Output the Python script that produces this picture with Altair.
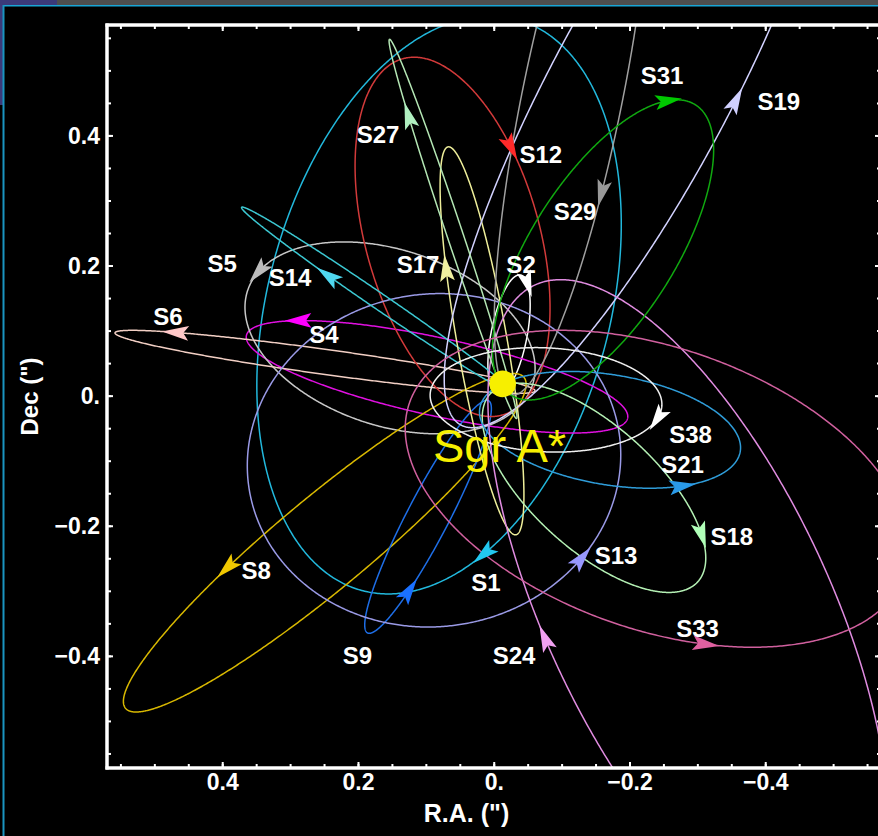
import math
import altair as alt
import pandas as pd

# ---- orbit data: projected ellipses of the S-stars (arcsec on the sky) ----
stars = ["S1", "S2", "S4", "S5", "S6", "S8", "S9", "S12", "S13", "S14",
         "S17", "S18", "S19", "S21", "S24", "S27", "S29", "S31", "S33", "S38"]

line_colors = ["#22b8dc", "#ffffff", "#e010e0", "#c8c8c8", "#f2cfc4", "#d8b800",
               "#1e6ee6", "#d23a3a", "#9a9ae6", "#3cc8d2", "#eeee9a", "#b4f0b4",
               "#d2d2ff", "#2f9cd8", "#e08ce0", "#b4e6b4", "#a0a0a0", "#10a810",
               "#d0609e", "#f0f0f0"]
arrow_colors = ["#22c8f0", "#ffffff", "#ff00ff", "#bbbbbb", "#ffc8c8", "#f0c800",
                "#1a70ff", "#ff2a2a", "#9898ff", "#50d8f0", "#f0f0a0", "#b0ffb8",
                "#d0d0ff", "#2a9ae8", "#f0a0f0", "#b0f0c0", "#999999", "#00c800",
                "#e060a0", "#ffffff"]

# ellipse centre (R.A., Dec), semi-axes and tilt (deg, counter-clockwise from west)
center_ra = [0.0813, -0.0218, 0.0843, 0.1535, 0.2493, 0.2497, 0.0975, 0.0614, 0.0887, 0.1727,
             0.0180, -0.1470, -0.2148, -0.1706, -0.2855, 0.0607, -0.1146, -0.1603, -0.2399, -0.0763]
center_dec = [0.1403, 0.0942, 0.0297, 0.0896, 0.0527, -0.2254, -0.1855, 0.2448, -0.0986, 0.1480,
              0.0850, -0.1409, 0.4707, -0.0518, -0.3299, 0.2571, 0.4584, 0.2248, -0.1424, -0.0057]
semi_major = [0.4536, 0.0936, 0.2879, 0.2221, 0.3126, 0.3884, 0.1995, 0.2835, 0.2760, 0.2450,
              0.3023, 0.2104, 0.5787, 0.1947, 0.5492, 0.3060, 0.4649, 0.2613, 0.3880, 0.1709]
semi_minor = [0.2525, 0.0266, 0.0598, 0.1345, 0.0192, 0.0694, 0.0312, 0.1285, 0.2553, 0.0121,
              0.0369, 0.0933, 0.1337, 0.0844, 0.2106, 0.0118, 0.0738, 0.1072, 0.2155, 0.0799]
tilt_deg = [76.0, 79.6, -12.8, -20.0, -8.2, 41.0, 63.5, 104.7, 12.3, -35.5,
            99.5, -44.0, 63.0, -10.0, -66.0, 107.8, 79.0, 59.0, -20.6, -3.0]
# +1: counter-clockwise on the page, -1: clockwise
sense = [-1, -1, 1, 1, 1, 1, 1, -1, 1, -1,
         -1, -1, 1, 1, -1, -1, -1, -1, 1, -1]

# where each direction arrow sits along its orbit
arrow_ra = [0.0136, -0.0454, 0.2890, 0.3598, 0.4703, 0.3922, 0.1211, -0.0233, -0.1235, 0.2463,
            0.0695, -0.2988, -0.3577, -0.2782, -0.0793, 0.1241, -0.1632, -0.2561, -0.3106, -0.2487]
arrow_dec = [-0.2469, 0.1710, 0.1265, 0.2018, 0.0973, -0.2669, -0.3007, 0.3815, -0.2439, 0.1833,
             0.1971, -0.2162, 0.4553, -0.1409, -0.3699, 0.4322, 0.3093, 0.4599, -0.3868, -0.0410]

# star name labels
label_ra = [0.0121, -0.0395, 0.2508, 0.4010, 0.4806, 0.3509, 0.2014, -0.0685, -0.1794, 0.3008,
            0.1123, -0.3499, -0.4193, -0.2774, -0.0292, 0.1712, -0.1190, -0.2472, -0.2995, -0.2892]
label_dec = [-0.2869, 0.2018, 0.0942, 0.2033, 0.1211, -0.2684, -0.3987, 0.3708, -0.2454, 0.1818,
             0.2018, -0.2170, 0.4527, -0.1056, -0.3990, 0.4015, 0.2837, 0.4914, -0.3576, -0.0595]

# Sgr A*
sgr_ra, sgr_dec = [-0.0125], [0.0189]
sgr_label_ra, sgr_label_dec = [-0.0078], [-0.1010]

# axis ticks and their labels
major_ticks = [0.4, 0.2, 0.0, -0.2, -0.4]
tick_labels = ["0.4", "0.2", "0.", "\u22120.2", "\u22120.4"]
minor_ticks = [round(-0.55 + 0.05 * k, 2) for k in range(23)]

# ---- geometry ----
W, H = 771, 743
RA_DOMAIN = [-0.5654, 0.5705]
DEC_DOMAIN = [-0.5716, 0.5705]
px_ra = W / (RA_DOMAIN[1] - RA_DOMAIN[0])
px_dec = H / (DEC_DOMAIN[1] - DEC_DOMAIN[0])


def ellipse_point(i, t):
    phi = math.radians(tilt_deg[i])
    a, b = semi_major[i], semi_minor[i]
    u = a * math.cos(t) * math.cos(phi) - b * math.sin(t) * math.sin(phi)
    v = a * math.cos(t) * math.sin(phi) + b * math.sin(t) * math.cos(phi)
    du = -a * math.sin(t) * math.cos(phi) - b * math.cos(t) * math.sin(phi)
    dv = -a * math.sin(t) * math.sin(phi) + b * math.cos(t) * math.cos(phi)
    return center_ra[i] - u, center_dec[i] + v, du, dv


orbit_rows = []
for i, name in enumerate(stars):
    for k in range(0, 721):
        ra, dec, _, _ = ellipse_point(i, math.radians(k * 0.5))
        orbit_rows.append({"star": name, "step": k, "ra": ra, "dec": dec, "hex": line_colors[i]})
orbit_df = pd.DataFrame(orbit_rows)

arrow_rows = []
for i, name in enumerate(stars):
    best = None
    for k in range(0, 1440):
        t = math.radians(k * 0.25)
        ra, dec, du, dv = ellipse_point(i, t)
        d = ((ra - arrow_ra[i]) * px_ra) ** 2 + ((dec - arrow_dec[i]) * px_dec) ** 2
        if best is None or d < best[0]:
            best = (d, ra, dec, du, dv)
    _, ra, dec, du, dv = best
    dx = du * px_ra * sense[i]
    dy_up = dv * px_dec * sense[i]
    ang = math.degrees(math.atan2(dx, dy_up)) % 360.0
    arrow_rows.append({"star": name, "ra": ra, "dec": dec, "angle": ang, "hex": arrow_colors[i]})
arrow_df = pd.DataFrame(arrow_rows)

label_df = pd.DataFrame({"label": stars, "ra": label_ra, "dec": label_dec})
sgr_df = pd.DataFrame({"ra": sgr_ra, "dec": sgr_dec})
sgr_label_df = pd.DataFrame({"ra": sgr_label_ra, "dec": sgr_label_dec, "text": ["Sgr A*"]})
tick_label_df = pd.DataFrame({"v": major_ticks, "text": tick_labels})

xs = alt.Scale(domain=RA_DOMAIN, reverse=True, nice=False, zero=False)
ys = alt.Scale(domain=DEC_DOMAIN, nice=False, zero=False)


def X(field):
    return alt.X(field, scale=xs, axis=None)


def Y(field):
    return alt.Y(field, scale=ys, axis=None)


FONT = "Liberation Sans"

orbits = alt.Chart(orbit_df).mark_line(clip=True, strokeWidth=1.5).encode(
    x=X("ra:Q"), y=Y("dec:Q"),
    detail="star:N",
    color=alt.Color("hex:N", scale=None),
    order="step:Q",
)

ARROW = "M0,-1L0.55,1L0,0.6L-0.55,1Z"
arrows = alt.Chart(arrow_df).mark_point(shape=ARROW, filled=True, size=720, opacity=1,
                                        strokeWidth=0).encode(
    x=X("ra:Q"), y=Y("dec:Q"),
    angle=alt.Angle("angle:Q", scale=None),
    color=alt.Color("hex:N", scale=None),
)

labels = alt.Chart(label_df).mark_text(font=FONT, fontSize=24, fontWeight="bold", color="white",
                                       align="center", baseline="middle", dy=1).encode(
    x=X("ra:Q"), y=Y("dec:Q"), text="label:N",
)

sgr_dot = alt.Chart(sgr_df).mark_point(shape="circle", filled=True, size=710, opacity=1,
                                       color="#f7ef00", strokeWidth=0).encode(
    x=X("ra:Q"), y=Y("dec:Q"),
)
sgr_text = alt.Chart(sgr_label_df).mark_text(font=FONT, fontSize=47, color="#f7ef00",
                                             align="center", baseline="alphabetic").encode(
    x=X("ra:Q"), y=Y("dec:Q"), text="text:N",
)

# tick labels and axis titles
x_tick_text = alt.Chart(tick_label_df).mark_text(
    font=FONT, fontSize=23, fontWeight="bold", color="white", align="center",
    baseline="alphabetic").encode(x=X("v:Q"), y=alt.value(H + 22), text="text:N")
y_tick_text = alt.Chart(tick_label_df).mark_text(
    font=FONT, fontSize=23, fontWeight="bold", color="white", align="right",
    baseline="middle", dy=1).encode(y=Y("v:Q"), x=alt.value(-7), text="text:N")

one = pd.DataFrame({"k": [0]})
x_title = alt.Chart(pd.DataFrame({"t": ['R.A. (")']})).mark_text(
    font=FONT, fontSize=25, fontWeight="bold", color="white", align="center",
    baseline="alphabetic").encode(x=alt.value(W / 2 - 26), y=alt.value(H + 54), text="t:N")
y_title = alt.Chart(pd.DataFrame({"t": ['Dec (")']})).mark_text(
    font=FONT, fontSize=24, fontWeight="bold", color="white", align="center",
    baseline="alphabetic", angle=270).encode(x=alt.value(-69), y=alt.value(H / 2), text="t:N")

FRAME = 3.5
frame = [
    alt.Chart(one).mark_rule(color="white", strokeWidth=FRAME).encode(
        x=alt.value(0), y=alt.value(-1.5), y2=alt.value(H + 1.5)),
    alt.Chart(one).mark_rule(color="white", strokeWidth=FRAME).encode(
        x=alt.value(-1.5), x2=alt.value(W + 5), y=alt.value(0)),
    alt.Chart(one).mark_rule(color="white", strokeWidth=FRAME).encode(
        x=alt.value(-1.5), x2=alt.value(W + 5), y=alt.value(H)),
]

minor_df = pd.DataFrame({"v": minor_ticks})
major_df = pd.DataFrame({"v": major_ticks})
ticks = []
for df, ln in ((minor_df, 4), (major_df, 6)):
    ticks += [
        alt.Chart(df).mark_rule(color="white", strokeWidth=2).encode(
            x=X("v:Q"), y=alt.value(H), y2=alt.value(H - ln)),
        alt.Chart(df).mark_rule(color="white", strokeWidth=2).encode(
            x=X("v:Q"), y=alt.value(0), y2=alt.value(ln)),
        alt.Chart(df).mark_rule(color="white", strokeWidth=2).encode(
            y=Y("v:Q"), x=alt.value(0), x2=alt.value(ln)),
        alt.Chart(df).mark_rule(color="white", strokeWidth=2).encode(
            y=Y("v:Q"), x=alt.value(W + 3), x2=alt.value(W + 3 - ln)),
    ]

# presentation-slide edge around the figure
slide = [
    alt.Chart(one).mark_rect(color="#4e4e4e").encode(
        x=alt.value(-50), x2=alt.value(W), y=alt.value(-25), y2=alt.value(-20)),
    alt.Chart(one).mark_rect(color="#3b3a7a").encode(
        x=alt.value(-107), x2=alt.value(-50), y=alt.value(-25), y2=alt.value(-20)),
    alt.Chart(one).mark_rect(color="#3b3a7a").encode(
        x=alt.value(-107), x2=alt.value(-104), y=alt.value(-25), y2=alt.value(80)),
    alt.Chart(one).mark_rect(color="#1aa6d6").encode(
        x=alt.value(-104), x2=alt.value(W), y=alt.value(-20), y2=alt.value(-18.5)),
    alt.Chart(one).mark_rect(color="#1a94c0").encode(
        x=alt.value(-104.5), x2=alt.value(-102.5), y=alt.value(-20), y2=alt.value(H + 70)),
]

chart = alt.layer(
    orbits, arrows, sgr_dot, labels, sgr_text, x_tick_text, y_tick_text, x_title, y_title,
    *ticks, *frame, *slide
).properties(
    width=W, height=H,
    autosize=alt.AutoSizeParams(type="none"),
    padding={"left": 107, "top": 25, "right": 0, "bottom": 68},
    background="black",
).configure_view(stroke=None)

chart.save("out.html", embed_options={"renderer": "svg", "actions": False})
